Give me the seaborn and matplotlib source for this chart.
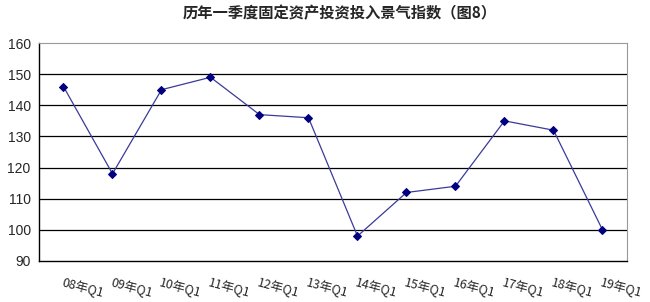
import matplotlib
matplotlib.use("Agg")
import matplotlib.pyplot as plt
import seaborn as sns
import pandas as pd

categories = ["08年Q1", "09年Q1", "10年Q1", "11年Q1", "12年Q1", "13年Q1",
              "14年Q1", "15年Q1", "16年Q1", "17年Q1", "18年Q1", "19年Q1"]
values = [146, 118, 145, 149, 137, 136, 98, 112, 114, 135, 132, 100]
yticks = [90, 100, 110, 120, 130, 140, 150, 160]
title = "历年一季度固定资产投资投入景气指数（图8）"

sns.set_theme(style="white")
plt.rcParams['font.family'] = ['Noto Sans CJK SC', 'DejaVu Sans']

df = pd.DataFrame({"pos": range(len(categories)), "value": values})

fig = plt.figure(figsize=(6.5, 3.02), dpi=100)
ax = fig.add_axes([0.06, 0.1358, 0.9046, 0.7218])
sns.lineplot(data=df, x="pos", y="value", ax=ax, color="#3a3a9a", linewidth=0.9,
             marker="D", markersize=4.5, markerfacecolor="#000080",
             markeredgecolor="#000080")

ax.set_xlim(-0.5, len(categories) - 0.5)
ax.set_ylim(yticks[0], yticks[-1])
ax.set_yticks(yticks)
ax.set_yticklabels([str(v) for v in yticks], family=['Liberation Sans'], fontsize=10)
for y in yticks[1:-1]:
    ax.axhline(y, color="black", linewidth=0.9, zorder=0)

ax.set_xticks(range(len(categories)))
ax.set_xticklabels(categories, rotation=-15, ha="left", va="top",
                   rotation_mode="anchor", fontsize=9, fontstyle="italic")
ax.tick_params(axis="x", length=0, pad=11)
ax.set_xticks([i + 0.5 for i in range(len(categories) - 1)], minor=True)
ax.tick_params(axis="x", which="minor", direction="in", length=5, width=0.8, color="black")
ax.tick_params(axis="y", length=0, pad=6)

ax.set_xlabel("")
ax.set_ylabel("")
for side in ["left", "bottom"]:
    ax.spines[side].set_color("black")
    ax.spines[side].set_linewidth(1.0)
for side in ["top", "right"]:
    ax.spines[side].set_color("#999999")
    ax.spines[side].set_linewidth(0.8)

fig.text(0.523, 0.955, title, ha="center", va="center", fontsize=11, fontweight="bold")

fig.savefig("out.png", dpi=100, facecolor="white")
